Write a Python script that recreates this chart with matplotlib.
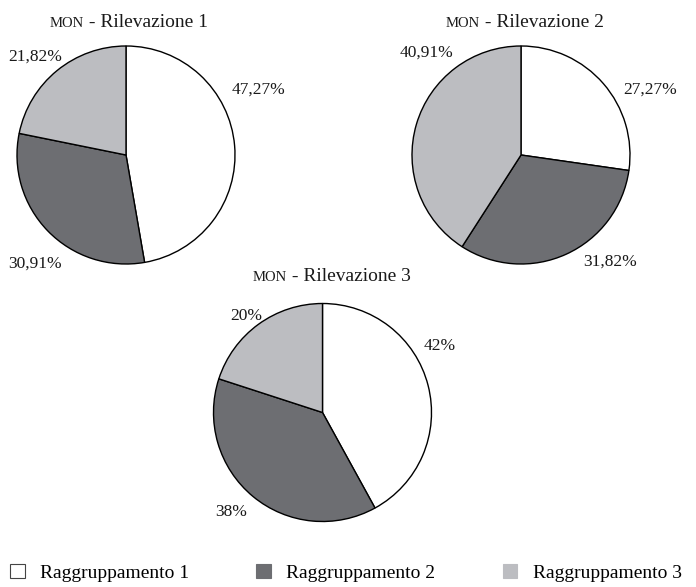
import matplotlib
matplotlib.use("Agg")
import matplotlib.pyplot as plt
from matplotlib.patches import Patch

# ---- data ----
prefix = "MON"
surveys = ["Rilevazione 1", "Rilevazione 2", "Rilevazione 3"]
groups = ["Raggruppamento 1", "Raggruppamento 2", "Raggruppamento 3"]
ril1 = [47.27, 30.91, 21.82]
ril2 = [27.27, 31.82, 40.91]
ril3 = [42, 38, 20]

# ---- style / layout (pixel units, y pointing up) ----
colors = ["#ffffff", "#6d6e72", "#bcbdc1"]
W, H = 696, 587
radius = 109
centers = [(126, 432), (521, 432), (322.5, 174.5)]
label_offsets = [
    [(133, 65), (-91, -109), (-91, 98)],
    [(129, 65), (89, -107), (-95, 102)],
    [(117, 67), (-91, -99), (-76, 97)],
]
title_pos = [(129, 560), (525, 560), (332, 306)]

plt.rcParams["font.family"] = ["Liberation Serif", "DejaVu Serif"]

fig = plt.figure(figsize=(W / 100, H / 100), dpi=100)
ax = fig.add_axes([0, 0, 1, 1])


def fmt(v):
    s = f"{v:.2f}".rstrip("0").rstrip(".")
    return s.replace(".", ",") + "%"


for vals, c, offs in zip([ril1, ril2, ril3], centers, label_offsets):
    ax.pie(vals, colors=colors, startangle=90, counterclock=False,
           center=c, radius=radius,
           wedgeprops=dict(edgecolor="black", linewidth=1.0))
    for v, (dx, dy) in zip(vals, offs):
        ax.text(c[0] + dx, c[1] + dy, fmt(v), ha="center", va="center",
                fontsize=12.5, color="#1a1a1a")

ax.set_xlim(0, W)
ax.set_ylim(0, H)
ax.set_aspect("equal")
ax.axis("off")

# titles: small-caps prefix followed by the survey name
renderer = fig.canvas.get_renderer()
for name, (tx, ty) in zip(surveys, title_pos):
    t1 = ax.text(tx, ty, prefix, fontsize=10.5, ha="right", va="baseline",
                 color="#1a1a1a")
    t2 = ax.text(tx, ty, " - " + name, fontsize=14, ha="left", va="baseline",
                 color="#1a1a1a")
    w1 = t1.get_window_extent(renderer).width
    w2 = t2.get_window_extent(renderer).width
    shift = (w1 - w2) / 2
    t1.set_x(tx + shift)
    t2.set_x(tx + shift)

handles = [Patch(facecolor=colors[0], edgecolor="#444444", linewidth=0.8),
           Patch(facecolor=colors[1], edgecolor=colors[1], linewidth=0.8),
           Patch(facecolor=colors[2], edgecolor=colors[2], linewidth=0.8)]
fig.legend(handles, groups, loc="center left",
           bbox_to_anchor=(10 / W, 14 / H), ncol=3, frameon=False,
           fontsize=14, handlelength=0.75, handleheight=0.75,
           handletextpad=0.8, columnspacing=3.45, borderpad=0,
           borderaxespad=0)

fig.savefig("out.png", dpi=100)
